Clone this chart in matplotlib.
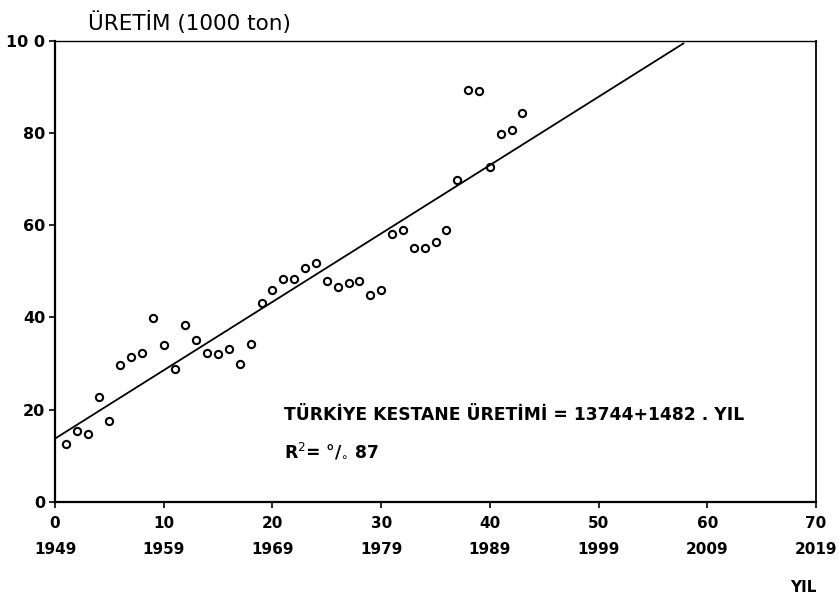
import matplotlib
matplotlib.use("Agg")
import matplotlib.pyplot as plt
import numpy as np

# Data
years_idx = [1, 2, 3, 4, 5, 6, 7, 8, 9, 10, 11, 12, 13, 14, 15, 16, 17, 18, 19, 20,
             21, 22, 23, 24, 25, 26, 27, 28, 29, 30, 31, 32, 33, 34, 35, 36, 37, 38,
             39, 40, 41, 42, 43]
production = [12.6, 15.3, 14.8, 22.8, 17.5, 29.7, 31.4, 32.3, 39.8, 34.1, 28.8, 38.3,
              35.1, 32.3, 32.1, 33.1, 30.0, 34.3, 43.1, 45.9, 48.4, 48.3, 50.8, 51.9,
              47.9, 46.7, 47.4, 47.8, 44.8, 45.9, 58.2, 58.9, 55.0, 55.0, 56.4, 58.9,
              69.8, 89.4, 89.2, 72.7, 79.8, 80.6, 84.3]
intercept = 13.744
slope = 1.482
line_x = [0, 57.8]
x_ticks = [0, 10, 20, 30, 40, 50, 60, 70]
x_years = ["1949", "1959", "1969", "1979", "1989", "1999", "2009", "2019"]
y_ticks = [0, 20, 40, 60, 80, 100]
y_labels = ["0", "20", "40", "60", "80", "10 0"]

fig = plt.figure(figsize=(8.39, 6.03), dpi=100)
ax = fig.add_axes([0.0656, 0.1675, 0.907, 0.765])

lx = np.array(line_x)
ax.plot(lx, intercept + slope * lx, color="black", lw=1.3)
ax.plot(years_idx, production, linestyle="none", marker="o", markersize=5.2,
        markerfacecolor="none", markeredgecolor="black", markeredgewidth=1.5)

ax.set_xlim(0, 70)
ax.set_ylim(0, 100)
ax.set_xticks(x_ticks)
ax.set_xticklabels([f"{t}\n{y}" for t, y in zip(x_ticks, x_years)],
                   fontsize=11, fontweight="bold", linespacing=1.9)
ax.set_yticks(y_ticks)
ax.set_yticklabels(y_labels, fontsize=11.5, fontweight="bold")
ax.tick_params(axis="both", direction="out", length=4, width=1.2, color="black")
ax.tick_params(axis="x", pad=6)
ax.tick_params(axis="y", pad=3)

for side in ["left", "bottom"]:
    ax.spines[side].set_linewidth(1.6)
ax.spines["right"].set_linewidth(1.3)
ax.spines["top"].set_linewidth(1.0)

fig.text(0.105, 0.962, "ÜRETİM (1000 ton)", fontsize=15.5, ha="left", va="center")
fig.text(0.973, 0.025, "YIL", fontsize=11, fontweight="bold", ha="right", va="center")

ax.text(21.1, 18.9, "TÜRKİYE KESTANE ÜRETİMİ = 13744+1482 . YIL",
        fontsize=12.3, fontweight="bold", ha="left", va="center")
ax.text(21.1, 11.0, r"R$^{2}$= °/$_{\circ}$ 87",
        fontsize=12.3, fontweight="bold", ha="left", va="center")

fig.savefig("out.png", dpi=100)
